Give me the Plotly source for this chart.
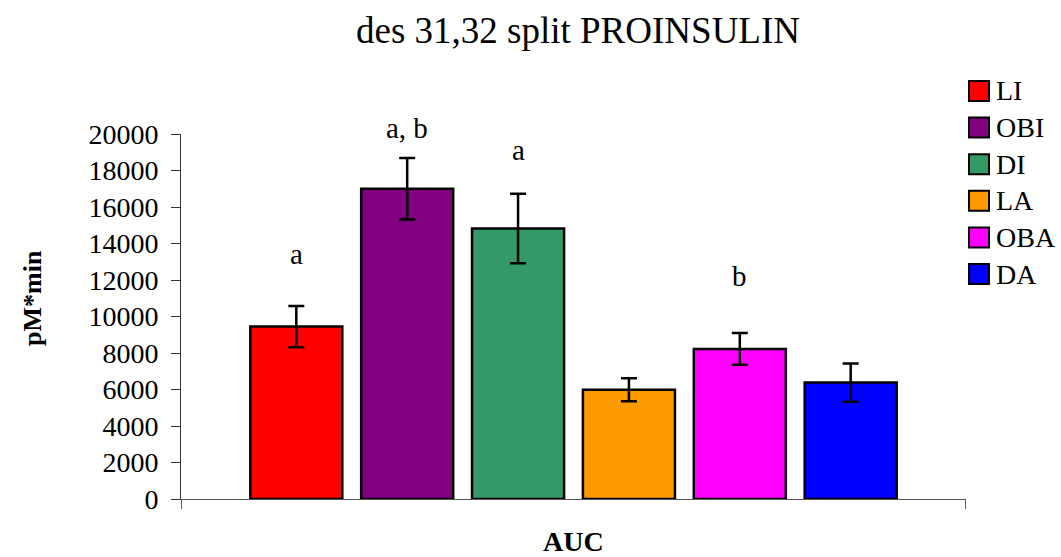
import plotly.graph_objects as go

# AUC of des 31,32 split proinsulin per group (mean and error)
groups = ["LI", "OBI", "DI", "LA", "OBA", "DA"]
auc_mean = [9450, 17000, 14820, 5980, 8220, 6380]
auc_err = [1130, 1690, 1900, 630, 870, 1050]
sig_letters = ["a", "a, b", "a", "", "b", ""]
y_ticks = [0, 2000, 4000, 6000, 8000, 10000, 12000, 14000, 16000, 18000, 20000]

# styling
colors = ["#FF0000", "#800080", "#339966", "#FF9900", "#FF00FF", "#0000FF"]
letter_y = [13400, 20350, 19150, None, 12200, None]
FONT = "Liberation Serif, Times New Roman, serif"
W, H = 1061, 557
ML, MR, MT, MB = 181, 95, 134, 58
PW, PH = W - ML - MR, H - MT - MB
X_LO, X_HI = -1.04, 6.04
Y_MAX = 20000


def px_x(p):
    return (p - ML) / PW


def px_y(p):
    return (H - MB - p) / PH


fig = go.Figure()
for i, g in enumerate(groups):
    fig.add_trace(go.Bar(
        x=[i], y=[auc_mean[i]], name=g, width=0.83,
        marker=dict(color=colors[i], line=dict(color="black", width=2.5)),
        error_y=dict(type="data", array=[auc_err[i]], color="black",
                     thickness=2.5, width=8),
        showlegend=False,
    ))
    if sig_letters[i]:
        fig.add_annotation(x=i, y=letter_y[i] / Y_MAX, xref="x", yref="paper",
                           text=sig_letters[i], showarrow=False,
                           font=dict(family=FONT, size=29, color="black"),
                           yanchor="middle")

# legend drawn as swatches + labels
for i, g in enumerate(groups):
    cy = 91 + 36.6 * i
    fig.add_shape(type="rect", xref="paper", yref="paper",
                  x0=px_x(969), x1=px_x(989), y0=px_y(cy + 10), y1=px_y(cy - 10),
                  fillcolor=colors[i], line=dict(color="black", width=2))
    fig.add_annotation(x=px_x(994), y=px_y(cy), xref="paper", yref="paper",
                       text=g, showarrow=False, xanchor="left", yanchor="middle",
                       font=dict(family=FONT, size=28, color="black"))

# axis titles
fig.add_annotation(x=0.5, y=px_y(541), xref="paper", yref="paper",
                   text="<b>AUC</b>", showarrow=False, yanchor="middle",
                   font=dict(family=FONT, size=28, color="black"))
fig.add_annotation(x=px_x(32), y=px_y(298), xref="paper", yref="paper",
                   text="<b>pM*min</b>", showarrow=False, textangle=-90,
                   xanchor="center", yanchor="middle",
                   font=dict(family=FONT, size=26, color="black"))

fig.update_layout(
    width=W, height=H,
    margin=dict(l=ML, r=MR, t=MT, b=MB),
    paper_bgcolor="white", plot_bgcolor="white",
    title=dict(text="des 31,32 split PROINSULIN", x=578 / W, xanchor="center",
               y=1 - 30 / H, yanchor="middle", xref="container", yref="container",
               font=dict(family=FONT, size=37, color="black")),
    showlegend=False,
)
fig.update_xaxes(range=[X_LO, X_HI], tickvals=[X_LO + 1e-4, X_HI - 1e-4],
                 showticklabels=False, ticks="outside", ticklen=9,
                 tickcolor="#555", showline=True, linecolor="#555", linewidth=1,
                 showgrid=False, zeroline=False)
fig.update_yaxes(range=[0, Y_MAX], tickvals=y_ticks,
                 ticktext=[str(v) for v in y_ticks], ticks="outside", ticklen=9,
                 tickcolor="#333", showline=True, linecolor="#333", linewidth=1,
                 showgrid=False, zeroline=False, ticklabelstandoff=7,
                 tickfont=dict(family=FONT, size=28, color="black"))

fig.write_html("out.html")
